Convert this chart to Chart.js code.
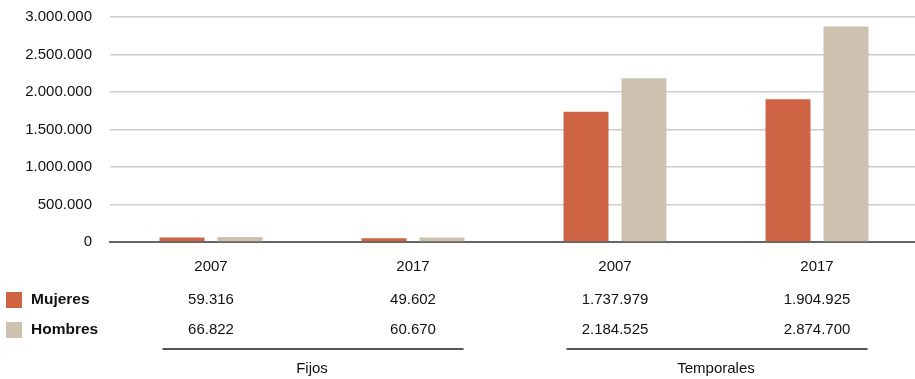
<!DOCTYPE html>
<html lang="es">
<head>
    <meta charset="UTF-8">
    <title>Mujeres y hombres - Fijos y Temporales</title>
    <style>
        body {
            margin: 0;
            padding: 0;
            background: #ffffff;
            font-family: Arial, "Liberation Sans", sans-serif;
        }
        #wrap {
            width: 915px;
            height: 379px;
            position: relative;
            overflow: hidden;
        }
    </style>
    <script src="https://cdn.jsdelivr.net/npm/chart.js"></script>
</head>
<body>
    <div id="wrap">
        <canvas id="chart" width="918" height="379"></canvas>
    </div>

    <script>
        const years = ["2007", "2017", "2007", "2017"];
        const groups = ["Fijos", "Temporales"];
        const mujeres = [59316, 49602, 1737979, 1904925];
        const hombres = [66822, 60670, 2184525, 2874700];
        const yTicks = [0, 500000, 1000000, 1500000, 2000000, 2500000, 3000000];

        const colMujeres = "#cf6444";
        const colHombres = "#cdc2b0";
        const textCol = "#111111";
        const font = "Arial, 'Liberation Sans', sans-serif";

        function fmt(n) {
            return String(n).replace(/\B(?=(\d{3})+(?!\d))/g, ".");
        }

        // table under the axis: legend, values, group lines
        const tablePlugin = {
            id: "tabla",
            afterDraw(chart) {
                const ctx = chart.ctx;
                const x = chart.scales.x;
                const rows = [
                    { label: "Mujeres", color: colMujeres, data: mujeres, y: 300 },
                    { label: "Hombres", color: colHombres, data: hombres, y: 330 }
                ];
                ctx.save();
                ctx.textBaseline = "middle";
                rows.forEach(r => {
                    ctx.fillStyle = r.color;
                    ctx.fillRect(6, r.y - 8, 16, 16);
                    ctx.fillStyle = textCol;
                    ctx.font = "bold 15.5px " + font;
                    ctx.textAlign = "left";
                    ctx.fillText(r.label, 31, r.y);
                    ctx.font = "15px " + font;
                    ctx.textAlign = "center";
                    r.data.forEach((v, i) => {
                        ctx.fillText(fmt(v), x.getPixelForValue(i), r.y);
                    });
                });

                const w = x.getPixelForValue(1) - x.getPixelForValue(0);
                groups.forEach((g, k) => {
                    const a = x.getPixelForValue(k * 2);
                    const b = x.getPixelForValue(k * 2 + 1);
                    ctx.strokeStyle = "#555555";
                    ctx.lineWidth = 2;
                    ctx.beginPath();
                    ctx.moveTo(a - w * 0.24, 349);
                    ctx.lineTo(b + w * 0.25, 349);
                    ctx.stroke();
                    ctx.fillStyle = textCol;
                    ctx.font = "15px " + font;
                    ctx.textAlign = "center";
                    ctx.fillText(g, (a + b) / 2, 369);
                });
                ctx.restore();
            }
        };

        new Chart(document.getElementById("chart"), {
            type: "bar",
            data: {
                labels: years,
                datasets: [
                    { label: "Mujeres", data: mujeres, backgroundColor: colMujeres },
                    { label: "Hombres", data: hombres, backgroundColor: colHombres }
                ]
            },
            options: {
                responsive: false,
                animation: false,
                categoryPercentage: 0.574,
                barPercentage: 0.776,
                layout: { padding: { top: 17, right: 0, bottom: 0, left: 0 } },
                plugins: {
                    legend: { display: false },
                    tooltip: { enabled: false }
                },
                scales: {
                    x: {
                        grid: { display: false, drawTicks: false },
                        border: { display: true, color: "#666666", width: 2 },
                        ticks: {
                            color: textCol,
                            font: { family: font, size: 15 },
                            padding: 16
                        },
                        afterFit(scale) { scale.height = 137; }
                    },
                    y: {
                        min: 0,
                        max: 3000000,
                        afterBuildTicks(scale) {
                            scale.ticks = yTicks.map(v => ({ value: v }));
                        },
                        grid: {
                            color: "#cccccc",
                            lineWidth: 1.5,
                            drawTicks: false
                        },
                        border: { display: false },
                        ticks: {
                            color: textCol,
                            font: { family: font, size: 15 },
                            padding: 18,
                            callback: v => fmt(v)
                        },
                        afterFit(scale) {
                            scale.width = 110;
                            scale.paddingTop = 0;
                            scale.paddingBottom = 0;
                        }
                    }
                }
            },
            plugins: [tablePlugin]
        });
    </script>
</body>
</html>
